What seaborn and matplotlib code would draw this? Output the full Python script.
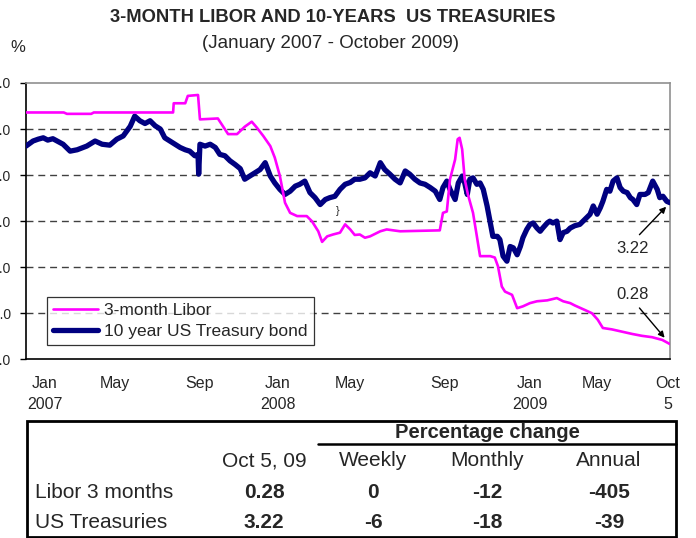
import matplotlib
matplotlib.use("Agg")
import matplotlib.pyplot as plt
import matplotlib.patches as mpatches
from matplotlib import font_manager
import seaborn as sns
import pandas as pd

# 3-month Libor
libor_dates = ['2007-01-02', '2007-03-02', '2007-03-07', '2007-04-14', '2007-04-18', '2007-08-20',
               '2007-08-21', '2007-09-08', '2007-09-12', '2007-09-28', '2007-10-01', '2007-10-29',
               '2007-11-14', '2007-11-28', '2007-12-10', '2007-12-21', '2007-12-29', '2008-01-08',
               '2008-01-19', '2008-01-26', '2008-02-03', '2008-02-11', '2008-02-19', '2008-03-01',
               '2008-03-16', '2008-03-24', '2008-04-03', '2008-04-09', '2008-04-17', '2008-04-26',
               '2008-05-07', '2008-05-15', '2008-05-23', '2008-05-30', '2008-06-07', '2008-06-15',
               '2008-06-23', '2008-07-09', '2008-07-19', '2008-08-09', '2008-10-10', '2008-10-15',
               '2008-10-21', '2008-10-26', '2008-11-03', '2008-11-07', '2008-11-10', '2008-11-14',
               '2008-11-18', '2008-11-23', '2008-12-01', '2008-12-07', '2008-12-12', '2008-12-28',
               '2009-01-04', '2009-01-09', '2009-01-15', '2009-01-20', '2009-01-31', '2009-02-08',
               '2009-02-17', '2009-02-28', '2009-03-11', '2009-03-27', '2009-04-11', '2009-04-21',
               '2009-05-02', '2009-05-09', '2009-05-25', '2009-06-05', '2009-06-14', '2009-06-22',
               '2009-07-06', '2009-07-22', '2009-08-07', '2009-08-22', '2009-09-07', '2009-09-23',
               '2009-10-05']
libor_vals = [5.36, 5.36, 5.33, 5.33, 5.36, 5.36,
              5.56, 5.56, 5.72, 5.74, 5.21, 5.23,
              4.89, 4.89, 5.05, 5.16, 5.03, 4.85,
              4.63, 4.38, 3.98, 3.40, 3.18, 3.11,
              3.11, 3.00, 2.78, 2.55, 2.67, 2.71,
              2.75, 2.93, 2.82, 2.70, 2.71, 2.64,
              2.67, 2.78, 2.82, 2.78, 2.80, 3.18,
              3.21, 3.91, 4.34, 4.78, 4.81, 4.56,
              3.91, 3.58, 3.18, 2.67, 2.24, 2.24,
              2.21, 2.02, 1.58, 1.47, 1.40, 1.11,
              1.15, 1.22, 1.26, 1.28, 1.33, 1.26,
              1.22, 1.17, 1.07, 1.00, 0.86, 0.68,
              0.65, 0.60, 0.55, 0.51, 0.48, 0.42,
              0.33]

# 10 year US Treasury bond
ust_dates = ['2007-01-02', '2007-01-13', '2007-01-21', '2007-01-29', '2007-02-05', '2007-02-13',
             '2007-02-21', '2007-03-01', '2007-03-12', '2007-03-23', '2007-04-07', '2007-04-20',
             '2007-05-01', '2007-05-13', '2007-05-24', '2007-06-03', '2007-06-14', '2007-06-21',
             '2007-06-29', '2007-07-07', '2007-07-15', '2007-07-23', '2007-07-31', '2007-08-07',
             '2007-08-15', '2007-08-23', '2007-08-31', '2007-09-08', '2007-09-15', '2007-09-23',
             '2007-09-28', '2007-09-29', '2007-10-01', '2007-10-09', '2007-10-17', '2007-10-25',
             '2007-11-01', '2007-11-09', '2007-11-17', '2007-11-25', '2007-12-03', '2007-12-10',
             '2007-12-18', '2007-12-26', '2008-01-03', '2008-01-11', '2008-01-19', '2008-01-26',
             '2008-02-03', '2008-02-11', '2008-02-19', '2008-02-27', '2008-03-05', '2008-03-13',
             '2008-03-21', '2008-03-29', '2008-04-06', '2008-04-14', '2008-04-21', '2008-04-29',
             '2008-05-07', '2008-05-15', '2008-05-23', '2008-05-30', '2008-06-07', '2008-06-15',
             '2008-06-23', '2008-07-01', '2008-07-09', '2008-07-16', '2008-07-24', '2008-08-01',
             '2008-08-09', '2008-08-17', '2008-08-24', '2008-09-01', '2008-09-09', '2008-09-17',
             '2008-09-25', '2008-10-03', '2008-10-10', '2008-10-15', '2008-10-21', '2008-10-26',
             '2008-11-03', '2008-11-08', '2008-11-14', '2008-11-18', '2008-11-22', '2008-11-26',
             '2008-12-01', '2008-12-07', '2008-12-12', '2008-12-17', '2008-12-23', '2008-12-28',
             '2009-01-01', '2009-01-08', '2009-01-12', '2009-01-17', '2009-01-23', '2009-01-28',
             '2009-02-02', '2009-02-08', '2009-02-13', '2009-02-17', '2009-02-23', '2009-02-28',
             '2009-03-05', '2009-03-11', '2009-03-16', '2009-03-20', '2009-03-27', '2009-03-31',
             '2009-04-05', '2009-04-11', '2009-04-16', '2009-04-21', '2009-04-27', '2009-05-02',
             '2009-05-09', '2009-05-17', '2009-05-25', '2009-06-02', '2009-06-07', '2009-06-13',
             '2009-06-18', '2009-06-22', '2009-06-28', '2009-07-03', '2009-07-08', '2009-07-14',
             '2009-07-19', '2009-07-24', '2009-07-30', '2009-08-04', '2009-08-08', '2009-08-14',
             '2009-08-19', '2009-08-27', '2009-09-01', '2009-09-08', '2009-09-15', '2009-09-19',
             '2009-09-24', '2009-09-30', '2009-10-05']
ust_vals = [4.63, 4.74, 4.78, 4.81, 4.76, 4.79,
            4.73, 4.67, 4.52, 4.55, 4.63, 4.74,
            4.67, 4.65, 4.78, 4.85, 5.06, 5.28,
            5.18, 5.12, 5.18, 5.07, 5.00, 4.81,
            4.74, 4.67, 4.60, 4.55, 4.52, 4.42,
            4.45, 4.02, 4.67, 4.63, 4.67, 4.60,
            4.45, 4.42, 4.31, 4.23, 4.14, 3.91,
            3.98, 4.05, 4.12, 4.27, 3.98, 3.83,
            3.69, 3.58, 3.65, 3.76, 3.80, 3.87,
            3.62, 3.51, 3.36, 3.47, 3.51, 3.54,
            3.69, 3.80, 3.84, 3.91, 3.91, 3.94,
            4.05, 3.98, 4.27, 4.12, 4.02, 3.91,
            3.83, 4.09, 4.02, 3.91, 3.83, 3.80,
            3.73, 3.65, 3.47, 3.73, 3.87, 3.69,
            3.47, 3.83, 3.98, 3.83, 3.58, 3.91,
            3.94, 3.80, 3.83, 3.69, 3.33, 2.96,
            2.67, 2.67, 2.60, 2.24, 2.13, 2.45,
            2.42, 2.27, 2.45, 2.64, 2.82, 2.93,
            2.96, 2.85, 2.78, 2.85, 2.96, 3.00,
            2.96, 3.00, 2.60, 2.75, 2.78, 2.85,
            2.90, 2.93, 3.04, 3.15, 3.33, 3.15,
            3.29, 3.43, 3.69, 3.65, 3.87, 3.94,
            3.73, 3.65, 3.62, 3.51, 3.47, 3.36,
            3.58, 3.58, 3.62, 3.87, 3.69, 3.51,
            3.54, 3.43, 3.40]

tick_dates = ['2007-01-31', '2007-05-21', '2007-10-01', '2008-01-31', '2008-05-23',
              '2008-10-18', '2009-02-28', '2009-06-13', '2009-10-02']
tick_labels = ['Jan\n2007', 'May', 'Sep', 'Jan\n2008', 'May', 'Sep', 'Jan\n2009', 'May', 'Oct\n5']

table_cols = ['Oct 5, 09', 'Weekly', 'Monthly', 'Annual']
table_rows = ['Libor 3 months', 'US Treasuries']
table_vals = [['0.28', '0', '-12', '-405'],
              ['3.22', '-6', '-18', '-39']]

sns.set_style('white')
try:
    font_manager.findfont('Liberation Sans Narrow', fallback_to_default=False)
    NARROW = 'Liberation Sans Narrow'
except Exception:
    NARROW = 'Liberation Sans'
plt.rcParams['font.family'] = ['Liberation Sans', 'DejaVu Sans']

W, H = 696, 538
def fx(x):
    return x / W
def fy(y):
    return 1 - y / H

fig = plt.figure(figsize=(W / 100, H / 100), dpi=100)
ax = fig.add_axes([fx(26), fy(359.3), 644 / W, 276.3 / H])

libor = pd.DataFrame({'date': pd.to_datetime(libor_dates), 'rate': libor_vals})
ust = pd.DataFrame({'date': pd.to_datetime(ust_dates), 'rate': ust_vals})

sns.lineplot(data=libor, x='date', y='rate', ax=ax, color='#FF00FF', lw=1.9,
             label='3-month Libor', zorder=4)
sns.lineplot(data=ust, x='date', y='rate', ax=ax, color='#000080', lw=3.8,
             label='10 year US Treasury bond', zorder=3)

ax.set_xlim(pd.Timestamp('2007-01-02'), pd.Timestamp('2009-10-05'))
ax.set_ylim(0, 6)
ax.set_yticks(range(7))
ax.set_yticklabels([f'{v:.1f}' for v in range(7)], fontsize=10)
ax.set_xticks(pd.to_datetime(tick_dates))
ax.set_xticklabels(tick_labels, fontsize=11.5, family=NARROW, linespacing=1.5)
ax.tick_params(axis='x', length=0, pad=12)
ax.tick_params(axis='y', length=4, width=1, color='black', pad=7, left=True)
ax.set_xlabel('')
ax.set_ylabel('')

for v in range(1, 6):
    ax.axhline(v, color='#404040', lw=1, ls=(0, (5, 3.5)), zorder=1)

for side in ['top', 'right']:
    ax.spines[side].set_color('#909090')
    ax.spines[side].set_linewidth(1.2)
for side in ['left', 'bottom']:
    ax.spines[side].set_color('black')
    ax.spines[side].set_linewidth(1.2)

leg = ax.legend(loc='lower left', bbox_to_anchor=(0.0326, 0.052), borderaxespad=0,
                fontsize=12.5, frameon=True, fancybox=False, handlelength=2.6,
                handletextpad=0.35, labelspacing=0.3, borderpad=0.35)
leg.get_frame().set_edgecolor('black')
leg.get_frame().set_linewidth(0.9)

# end-value call-outs
ax.annotate('', xy=(ust['date'].iloc[-1], ust['rate'].iloc[-1]), xytext=(-22, -23),
            textcoords='offset points',
            arrowprops=dict(arrowstyle='-|>', color='black', lw=1, shrinkA=0, shrinkB=4,
                            mutation_scale=9))
ax.annotate('3.22', xy=(ust['date'].iloc[-1], ust['rate'].iloc[-1]), xytext=(-27, -33),
            textcoords='offset points', ha='center', va='center', fontsize=12)
ax.annotate('', xy=(libor['date'].iloc[-1], libor['rate'].iloc[-1]), xytext=(-22, 26),
            textcoords='offset points',
            arrowprops=dict(arrowstyle='-|>', color='black', lw=1, shrinkA=0, shrinkB=6,
                            mutation_scale=9))
ax.annotate('0.28', xy=(libor['date'].iloc[-1], libor['rate'].iloc[-1]), xytext=(-27, 36),
            textcoords='offset points', ha='center', va='center', fontsize=12)
ax.text(pd.Timestamp('2008-05-04'), 3.22, '}', fontsize=8, ha='center', va='center')

# titles
fig.text(fx(333), fy(17), '3-MONTH LIBOR AND 10-YEARS  US TREASURIES', ha='center',
         va='center', fontsize=13.2, weight='bold', family=NARROW)
fig.text(fx(331), fy(44), '(January 2007 - October 2009)', ha='center', va='center',
         fontsize=13.5, family=NARROW)
fig.text(fx(18), fy(47), '%', ha='center', va='center', fontsize=12)

# table below the chart
fig.patches.append(mpatches.Rectangle((fx(27), fy(537)), (676 - 27) / W, (537 - 421) / H,
                                      transform=fig.transFigure, fill=False,
                                      edgecolor='black', lw=2))
fig.add_artist(plt.Line2D([fx(318), fx(676)], [fy(444), fy(444)], color='black', lw=1.8,
                          transform=fig.transFigure))
fig.text(fx(487), fy(432), 'Percentage change', ha='center', va='center', fontsize=14.5,
         weight='bold', family=NARROW)
col_x = [264, 373, 487, 609]
for cx, name in zip(col_x, table_cols):
    fig.text(fx(cx), fy(461), name, ha='center', va='center', fontsize=15, family=NARROW)
for ry, name, vals in zip([493, 522], table_rows, table_vals):
    fig.text(fx(35), fy(ry), name, ha='left', va='center', fontsize=15, family=NARROW)
    for cx, v in zip(col_x, vals):
        fig.text(fx(cx), fy(ry), v, ha='center', va='center', fontsize=15,
                 weight='bold', family=NARROW)

fig.savefig('out.png', dpi=100)
